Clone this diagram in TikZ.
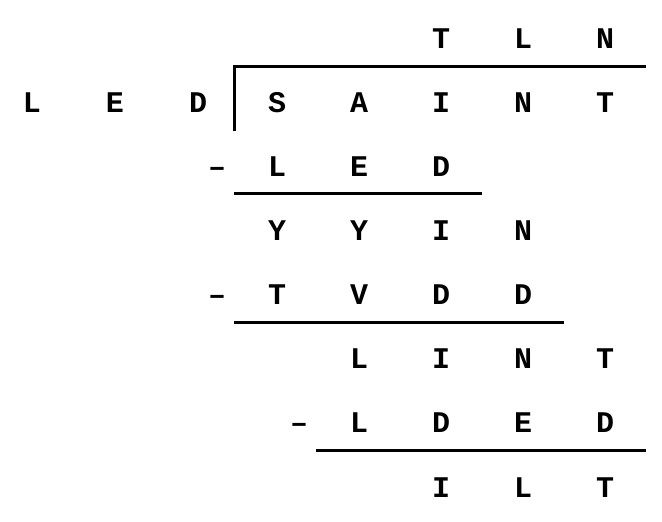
\documentclass[tikz,border=0pt]{standalone}
\usepackage{fontspec}
\newfontfamily\monob{Liberation Mono}
\begin{document}
\begin{tikzpicture}[x=1pt,y=-1pt,
  lt/.style={font=\monob\bfseries\fontsize{30}{30}\selectfont, inner sep=0pt, anchor=base},
  rule/.style={line width=3pt}]
\useasboundingbox (0,0) rectangle (662,522);
% quotient
\node[lt] (q1) at (441,48) {T};
\node[lt] (q2) at (523,48) {L};
\node[lt] (q3) at (605,48) {N};
% divisor
\node[lt] (d1) at (32,112) {L};
\node[lt] (d2) at (115,112) {E};
\node[lt] (d3) at (198,112) {D};
% dividend
\node[lt] (n1) at (277,112) {S};
\node[lt] (n2) at (359,112) {A};
\node[lt] (n3) at (441,112) {I};
\node[lt] (n4) at (523,112) {N};
\node[lt] (n5) at (605,112) {T};
% step 1
\node[lt] (m1) at (217,176.5) {–};
\node[lt] (a1) at (277,176.5) {L};
\node[lt] (a2) at (359,176.5) {E};
\node[lt] (a3) at (441,176.5) {D};
% remainder 1
\node[lt] (b1) at (277,240.5) {Y};
\node[lt] (b2) at (359,240.5) {Y};
\node[lt] (b3) at (441,240.5) {I};
\node[lt] (b4) at (523,240.5) {N};
% step 2
\node[lt] (m2) at (217,304) {–};
\node[lt] (c1) at (277,304) {T};
\node[lt] (c2) at (359,304) {V};
\node[lt] (c3) at (441,304) {D};
\node[lt] (c4) at (523,304) {D};
% remainder 2
\node[lt] (e1) at (359,368) {L};
\node[lt] (e2) at (441,368) {I};
\node[lt] (e3) at (523,368) {N};
\node[lt] (e4) at (605,368) {T};
% step 3
\node[lt] (m3) at (299,432) {–};
\node[lt] (f1) at (359,432) {L};
\node[lt] (f2) at (441,432) {D};
\node[lt] (f3) at (523,432) {E};
\node[lt] (f4) at (605,432) {D};
% final remainder
\node[lt] (g1) at (441,497) {I};
\node[lt] (g2) at (523,497) {L};
\node[lt] (g3) at (605,497) {T};
% rules
\draw[rule] (234,131) -- (234,66) -- (646,66);
\draw[rule] (234,193) -- (482,193);
\draw[rule] (234,322) -- (564,322);
\draw[rule] (316,450) -- (646,450);
\end{tikzpicture}
\end{document}
